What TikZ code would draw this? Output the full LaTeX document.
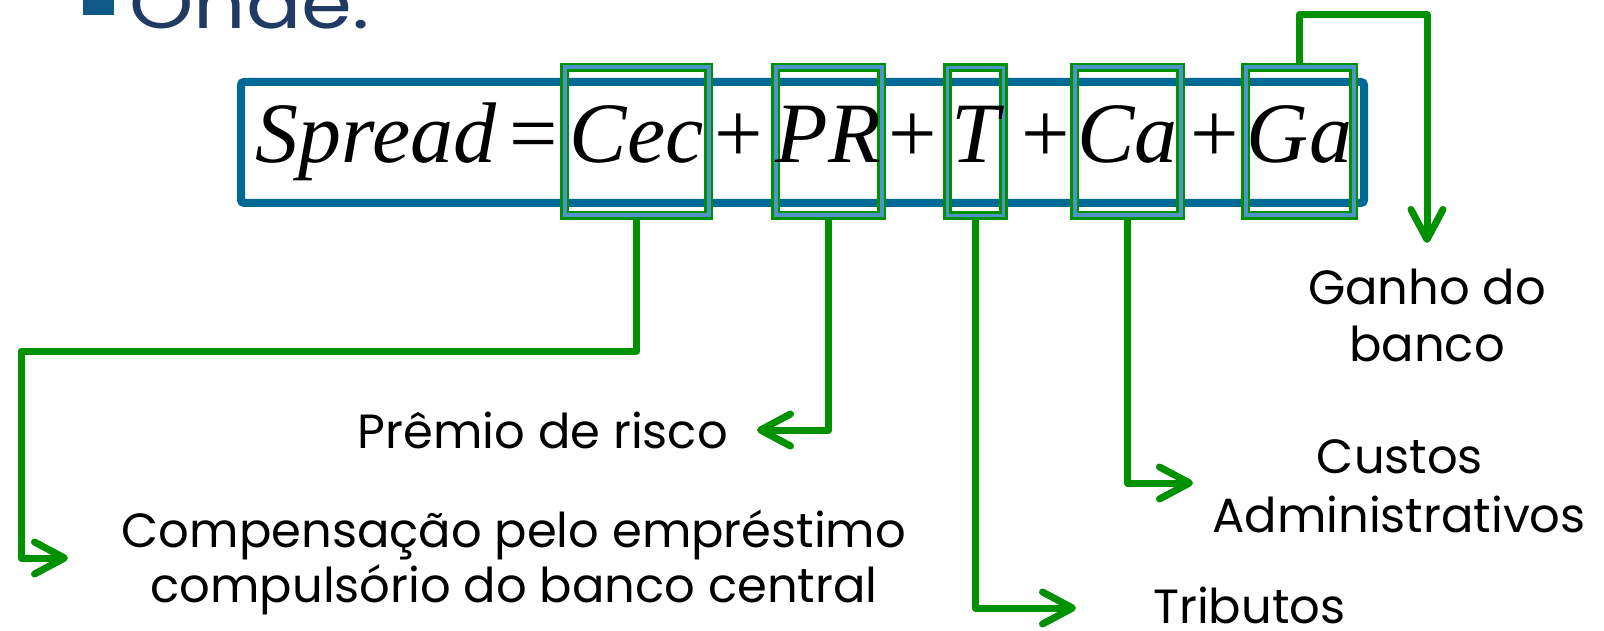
\documentclass[tikz,border=0pt]{standalone}
\usepackage{fontspec}
\newfontfamily\eqfont{Liberation Serif}
\newfontfamily\gothic{Poppins}
\usetikzlibrary{arrows.meta}

\definecolor{eqblue}{RGB}{0,106,150}
\definecolor{linkgreen}{RGB}{0,145,0}
\definecolor{bandblue}{RGB}{78,148,200}
\definecolor{titlenavy}{RGB}{31,58,99}
\definecolor{bulletblue}{RGB}{16,88,135}

\tikzset{
  eqtxt/.style={font=\eqfont\fontsize{86}{100}\selectfont, inner sep=0, anchor=base},
  termbox/.style={draw=linkgreen, line width=2.5pt, double=bandblue, double distance=4pt,
                  minimum height=148pt, inner sep=0, outer sep=0},
  thinbox/.style={termbox, line width=3pt, double distance=3pt},
  conn/.style={draw=linkgreen, line width=7pt, line join=round,
               -{Straight Barb[length=30pt,width=32pt,round]}},
  lbl/.style={font=\gothic\fontsize{48}{56}\selectfont, inner sep=0},
}

\begin{document}
\begin{tikzpicture}[x=1pt,y=-1pt]
\useasboundingbox (0,0) rectangle (1604,631);
\clip (0,0) rectangle (1604,631);

% heading
\fill[bulletblue] (83,-20) rectangle (114,15);
\node[font=\gothic\fontsize{70}{80}\selectfont, text=titlenavy, inner sep=0,
      anchor=base west, xscale=1.17]
  (title) at (129,29) {Onde:};

% frame round the formula
\draw[eqblue, line width=8pt, rounded corners=3pt] (241,82) rectangle (1364,203);

% anchor points of the connectors
\coordinate (cecbend) at (21,351);
\coordinate (cecend)  at (68,558);
\coordinate (prend)   at (757,430);
\coordinate (tend)    at (1076,608);
\coordinate (caend)   at (1193,483);
\coordinate (gabend)  at (1427,15);
\coordinate (gaend)   at (1427,243);

% placement of the term frames
\path node[termbox, draw=none, double=none, minimum width=144pt] (cecbox) at (636.5,141.5) {}
      node[termbox, draw=none, double=none, minimum width=106pt] (prbox)  at (828.5,141.5) {}
      node[termbox, draw=none, double=none, minimum width=56pt]  (tbox)   at (975.5,141.5) {}
      node[termbox, draw=none, double=none, minimum width=106pt] (cabox)  at (1127.5,141.5) {}
      node[termbox, draw=none, double=none, minimum width=108pt] (gabox)  at (1299.5,141.5) {};

% connectors
\draw[conn] (cecbox.south) |- (cecbend) |- (cecend);
\draw[conn] (prbox.south) |- (prend);
\draw[conn] (tbox.south) |- (tend);
\draw[conn] (cabox.south) |- (caend);
\draw[conn] (gabox.north) |- (gabend) -- (gaend);

% visible term frames
\draw[termbox] (cecbox.south west) rectangle (cecbox.north east);
\draw[termbox] (prbox.south west) rectangle (prbox.north east);
\draw[thinbox] (tbox.south west) rectangle (tbox.north east);
\draw[termbox] (cabox.south west) rectangle (cabox.north east);
\draw[termbox] (gabox.south west) rectangle (gabox.north east);

% formula
\node[eqtxt] (spread) at (376,163) {\itshape Spread};
\node[eqtxt] (eq)     at (534,163) {=};
\node[eqtxt] (cec)    at (636.5,163) {\itshape Cec};
\node[eqtxt] (p1)     at (739,163) {+};
\node[eqtxt] (pr)     at (828.5,163) {\itshape PR};
\node[eqtxt] (p2)     at (913,163) {+};
\node[eqtxt] (t)      at (975.5,163) {\itshape T};
\node[eqtxt] (p3)     at (1046,163) {+};
\node[eqtxt] (ca)     at (1127.5,163) {\itshape Ca};
\node[eqtxt] (p4)     at (1215,163) {+};
\node[eqtxt] (ga)     at (1299.5,163) {\itshape Ga};

% labels
\node[lbl, anchor=base] (cecl1) at (514,547) {Compensação pelo empréstimo};
\node[lbl, anchor=base] (cecl2) at (514,602) {compulsório do banco central};
\node[lbl, anchor=base east] (prl) at (728,448) {Prêmio de risco};
\node[lbl, anchor=base west] (tl) at (1153,623) {Tributos};
\node[lbl, anchor=base] (cal1) at (1400,473) {Custos};
\node[lbl, anchor=base] (cal2) at (1399,532) {Administrativos};
\node[lbl, anchor=base] (gal1) at (1427,305) {Ganho do};
\node[lbl, anchor=base] (gal2) at (1427,361) {banco};
\end{tikzpicture}
\end{document}
